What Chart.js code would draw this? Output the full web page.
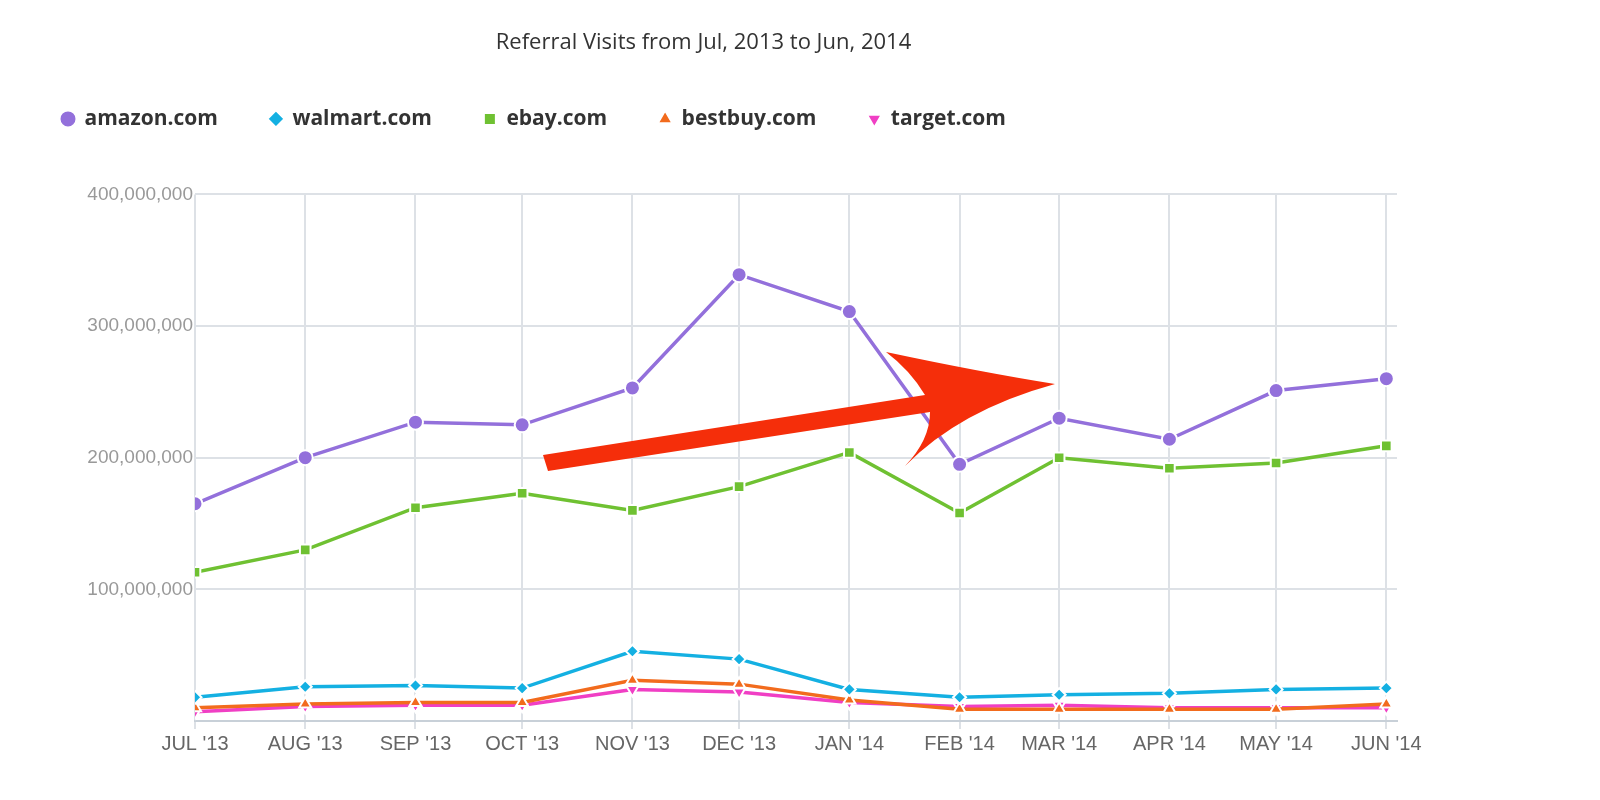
<!DOCTYPE html>
<html>
<head>
<meta charset="utf-8">
<script src="https://cdn.jsdelivr.net/npm/chart.js@4/dist/chart.umd.min.js"></script>
<style>
html, body { margin: 0; padding: 0; background: #fff; }
#wrap { width: 1600px; height: 800px; }
</style>
</head>
<body>
<div id="wrap"><canvas id="chart"></canvas></div>
<script>
// days since Jul 1 2013 for each month start
const monthDays = [0, 31, 62, 92, 123, 153, 184, 215, 243, 274, 304, 335];
const monthLabels = ["JUL '13", "AUG '13", "SEP '13", "OCT '13", "NOV '13", "DEC '13", "JAN '14", "FEB '14", "MAR '14", "APR '14", "MAY '14", "JUN '14"];

// values in millions
const amazon = [165, 200, 227, 225, 253, 339, 311, 195, 230, 214, 251, 260];
const walmart = [18, 26, 27, 25, 53, 47, 24, 18, 20, 21, 24, 25];
const ebay = [113, 130, 162, 173, 160, 178, 204, 158, 200, 192, 196, 209];
const bestbuy = [10, 13, 14, 14, 31, 28, 16, 9, 9, 9, 9, 13];
const target = [7, 11, 12, 12, 24, 22, 14, 11, 12, 10, 10, 10];

function pts(arr) {
	return arr.map(function (v, i) { return {x: monthDays[i], y: v * 1e6}; });
}

function series(label, arr, color, style, radius, rot) {
	return {
		label: label,
		data: pts(arr),
		borderColor: color,
		backgroundColor: color,
		borderWidth: 3.5,
		pointStyle: style,
		pointRotation: rot || 0,
		pointRadius: radius,
		pointBorderColor: '#fff',
		pointBorderWidth: 2,
		pointBackgroundColor: color,
		tension: 0
	};
}

// red annotation arrow
const arrowPlugin = {
	id: 'arrow',
	afterDatasetsDraw: function (chart) {
		const c = chart.ctx;
		c.save();
		c.fillStyle = '#f52e0a';
		c.beginPath();
		c.moveTo(543, 455);
		c.lineTo(925, 395);
		c.quadraticCurveTo(910, 370, 886, 352);
		c.quadraticCurveTo(980, 372, 1055, 384);
		c.quadraticCurveTo(960, 410, 905, 466);
		c.quadraticCurveTo(930, 440, 930, 412);
		c.lineTo(548, 471);
		c.closePath();
		c.fill();
		c.restore();
	}
};

new Chart(document.getElementById('chart'), {
	type: 'line',
	data: {
		datasets: [
			series('amazon.com', amazon, '#9370db', 'circle', 7.5),
			series('walmart.com', walmart, '#14b0e2', 'rectRot', 6.5),
			series('ebay.com', ebay, '#6fc132', 'rect', 7.5),
			series('bestbuy.com', bestbuy, '#f26b1d', 'triangle', 7),
			series('target.com', target, '#f03fc4', 'triangle', 7, 180)
		]
	},
	plugins: [arrowPlugin],
	options: {
		responsive: true,
		maintainAspectRatio: false,
		animation: false,
		layout: {padding: {left: 10, right: 203, top: 20, bottom: 41}},
		plugins: {
			title: {
				display: true,
				text: 'Referral Visits from Jul, 2013 to Jun, 2014',
				color: '#333',
				font: {family: 'Open Sans', size: 22, weight: 'normal'},
				padding: {top: 10, bottom: 0},
				align: 'center',
				fullSize: true
			},
			legend: {
				align: 'start',
				labels: {
					usePointStyle: true,
					boxWidth: 12,
					boxHeight: 12,
					padding: 52,
					color: '#333',
					font: {family: 'Open Sans', size: 21, weight: 'bold'}
				}
			},
			tooltip: {enabled: false}
		},
		scales: {
			x: {
				type: 'linear',
				min: 0,
				max: 338,
				afterBuildTicks: function (axis) {
					axis.ticks = monthDays.map(function (d) { return {value: d}; });
				},
				ticks: {
					autoSkip: false,
					maxRotation: 0,
					color: '#666',
					font: {family: 'Liberation Sans', size: 20},
					callback: function (v) {
						const i = monthDays.indexOf(v);
						return i >= 0 ? monthLabels[i] : '';
					}
				},
				grid: {color: '#dde1e6', lineWidth: 2, drawTicks: true, tickLength: 8},
				border: {color: '#c8d0d8', width: 2}
			},
			y: {
				min: 0,
				max: 400000000,
				afterFit: function (axis) { axis.width = 185; },
				ticks: {
					stepSize: 100000000,
					color: '#999',
					padding: 2,
					font: {family: 'Liberation Sans', size: 19},
					callback: function (v) { return v === 0 ? '' : v.toLocaleString('en-US'); }
				},
				grid: {color: '#dde1e6', lineWidth: 2, drawTicks: false},
				border: {display: false}
			}
		}
	}
});
// push plot area down below the legend
Chart.register({
	id: 'legendGap',
	beforeInit: function (chart) {
		const orig = chart.legend && chart.legend.fit;
	}
});
Chart.defaults.plugins.legend.labels.padding = 52;
const ch = Chart.getChart('chart');
const fitOrig = ch.legend.fit;
ch.legend.fit = function () { fitOrig.call(this); this.height += 55; };
ch.update();
</script>
</body>
</html>
